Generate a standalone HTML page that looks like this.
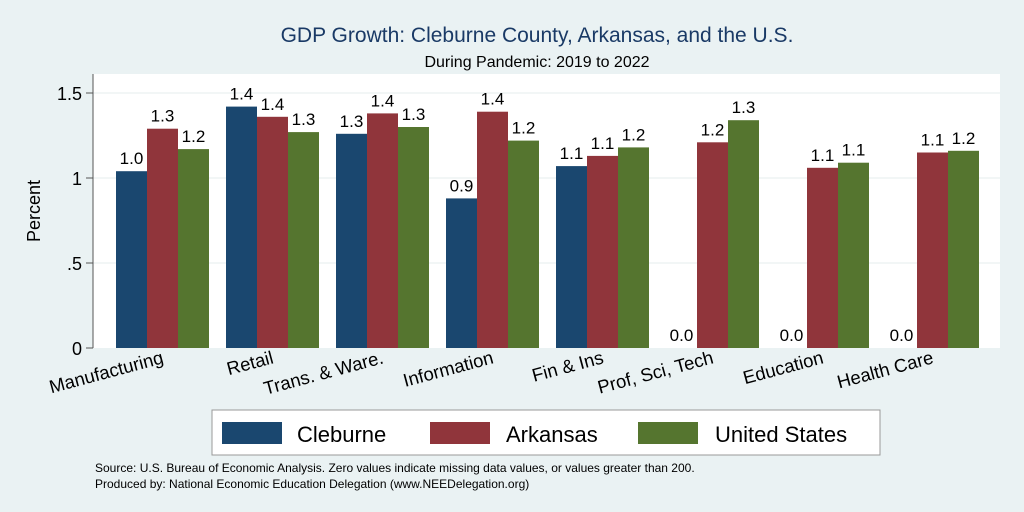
<!DOCTYPE html>
<html><head><meta charset="utf-8"><style>
body{margin:0;background:#eaf2f3;font-family:"Liberation Sans",sans-serif;}
svg{display:block}
</style></head><body>
<svg width="1024" height="512" xmlns="http://www.w3.org/2000/svg" font-family="Liberation Sans, sans-serif">
<rect width="1024" height="512" fill="#eaf2f3"/>
<text x="537" y="42" text-anchor="middle" font-size="21" fill="#1a3a66">GDP Growth: Cleburne County, Arkansas, and the U.S.</text>
<text x="537" y="67" text-anchor="middle" font-size="16" fill="#000">During Pandemic: 2019 to 2022</text>
<rect x="93" y="74" width="907" height="274" fill="#fff"/>
<g id="grid"></g>
<line x1="93" y1="74" x2="93" y2="348" stroke="#555"/>
<text transform="translate(40,211) rotate(-90)" text-anchor="middle" font-size="18">Percent</text>
<g id="bars"></g>
<rect x="212" y="410" width="668" height="45" fill="#fff" stroke="#999"/>
<g><rect x="222" y="422" width="60" height="22" fill="#1a476f"/><text x="297" y="442" font-size="22">Cleburne</text></g>
<g><rect x="430" y="422" width="60" height="22" fill="#90353b"/><text x="506" y="442" font-size="22">Arkansas</text></g>
<g><rect x="638" y="422" width="60" height="22" fill="#55752f"/><text x="715" y="442" font-size="22">United States</text></g>
<text x="95" y="472" font-size="12">Source: U.S. Bureau of Economic Analysis. Zero values indicate missing data values, or values greater than 200.</text>
<text x="95" y="488" font-size="12">Produced by: National Economic Education Delegation (www.NEEDelegation.org)</text>
</svg>
<script>
const categories=["Manufacturing","Retail","Trans. & Ware.","Information","Fin & Ins","Prof, Sci, Tech","Education","Health Care"];
const cleburne=[1.04,1.42,1.26,0.88,1.07,0,0,0];
const arkansas=[1.29,1.36,1.38,1.39,1.13,1.21,1.06,1.15];
const unitedStates=[1.17,1.27,1.30,1.22,1.18,1.34,1.09,1.16];
const yTicks=[0,0.5,1,1.5];
const yTickLabels=["0",".5","1","1.5"];
const NS="http://www.w3.org/2000/svg";
const y=v=>348-v*170;
const x=(i,s)=>116+i*110+s*31;
const grid=document.getElementById('grid'),bars=document.getElementById('bars');
function mk(tag,attrs,p){const e=document.createElementNS(NS,tag);for(const k in attrs)e.setAttribute(k,attrs[k]);p.appendChild(e);return e;}
yTicks.forEach((t,i)=>{
 const g=mk('g',{},grid);
 
 
 if(t>0)mk('line',{x1:93,x2:1000,y1:y(t),y2:y(t),stroke:'#e4ecee'},g);
 mk('line',{x1:86,x2:93,y1:y(t),y2:y(t),stroke:'#555'},g);
 const tx=mk('text',{x:82,y:y(t)+7,'text-anchor':'end','font-size':18},g);tx.textContent=yTickLabels[i];
});
const series=[[cleburne,'#1a476f','cleburne'],[arkansas,'#90353b','arkansas'],[unitedStates,'#55752f','us']];
categories.forEach((c,i)=>{
 series.forEach(([d,col,n],s)=>{
  const r=mk('rect',{x:x(i,s),y:y(d[i]),width:31,height:d[i]*170,fill:col},bars);
  
  
  const t=mk('text',{x:x(i,s)+15.5,y:y(d[i])-7,'text-anchor':'middle','font-size':17},bars);
  
  
  t.textContent=d[i].toFixed(1);
 });
 const cx=x(i,1)+15.5;
 const l=mk('text',{transform:`translate(${cx+2},${363}) rotate(-15)`,'text-anchor':'end','font-size':18.5},bars);
 
 
 l.textContent=c;
});
</script>
</body></html>
